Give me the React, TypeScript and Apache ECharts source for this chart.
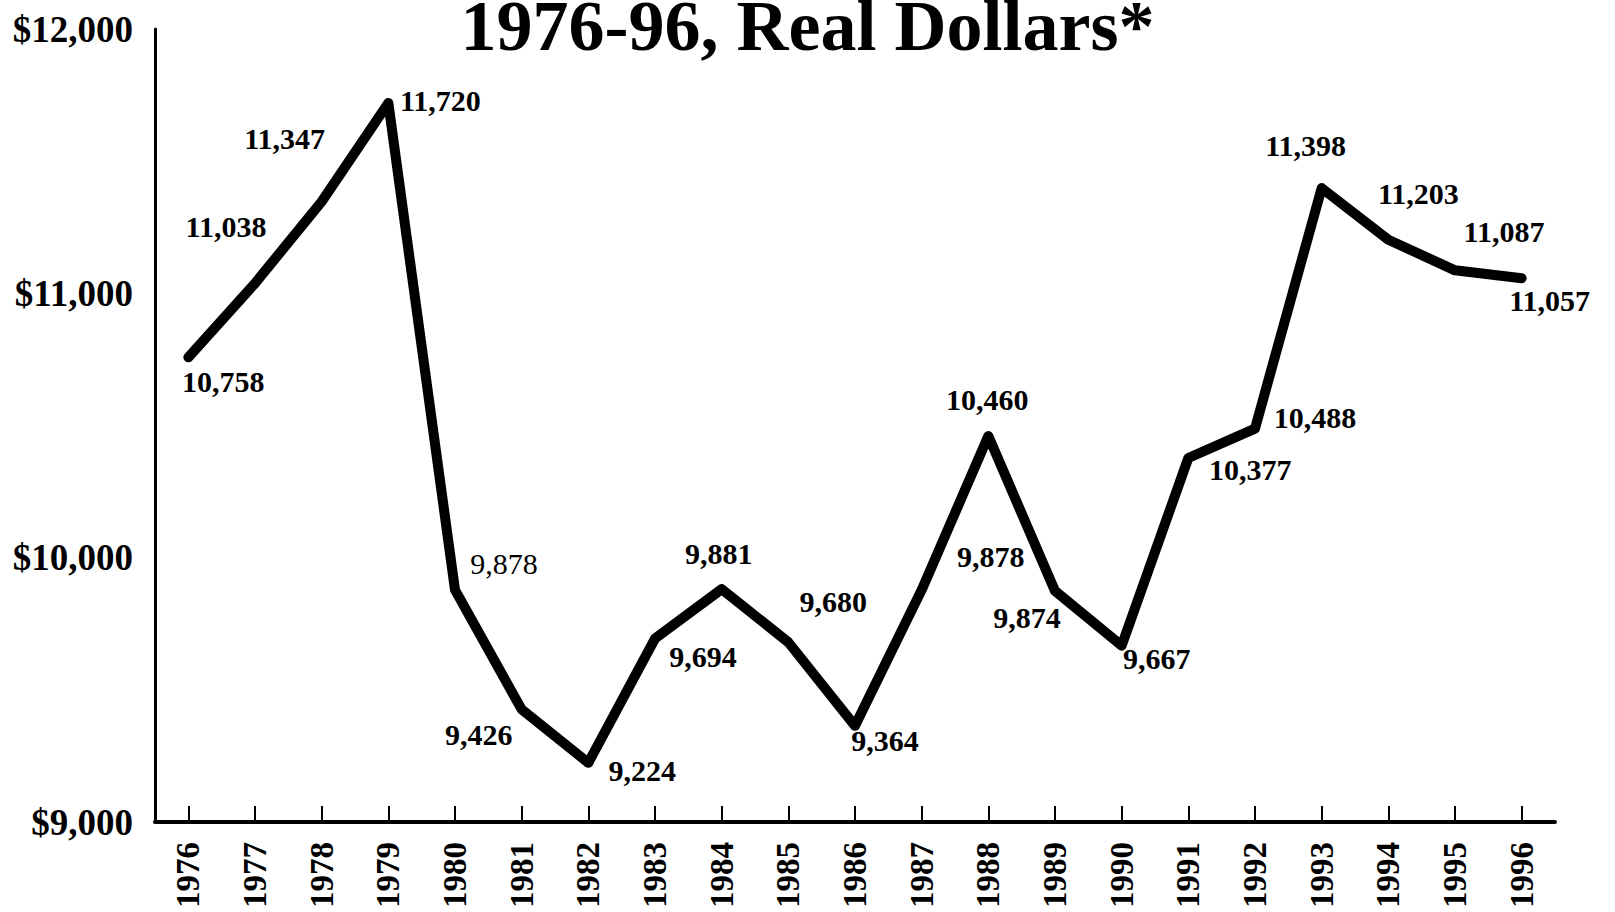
import React, { useEffect, useRef } from "react";
import * as echarts from "echarts";

const years = ["1976","1977","1978","1979","1980","1981","1982","1983","1984","1985","1986","1987","1988","1989","1990","1991","1992","1993","1994","1995","1996"];
const values = [10758, 11038, 11347, 11720, 9878, 9426, 9224, 9694, 9881, 9680, 9364, 9878, 10460, 9874, 9667, 10377, 10488, 11398, 11203, 11087, 11057];
const yTicks = [9000, 10000, 11000, 12000];
const titleText = "1976-96, Real Dollars*";

// label placement (style only)
const labelOffsets: number[][] = [
  [35, 24], [-29, -57], [-37, -63], [52, -3], [49, -26], [-43, 25], [54, 8],
  [48, 18], [-3, -36], [45, -41], [30, 15], [69, -33], [-1, -37], [-28, 27],
  [35, 13], [62, 11], [60, -11], [-16, -43], [30, -46], [49, -39], [28, 22],
];
const regularLabels = [4];

const FONT = "'Liberation Serif', 'Times New Roman', serif";

export default function App() {
  const ref = useRef<HTMLDivElement>(null);
  useEffect(() => {
    if (!ref.current) return;
    const chart = echarts.init(ref.current, undefined, { renderer: "svg" });
    chart.setOption({
      animation: false,
      backgroundColor: "#ffffff",
      title: {
        text: titleText,
        left: "center",
        top: 0,
        padding: 0,
        textStyle: { fontFamily: FONT, fontWeight: "bold", fontSize: 72, lineHeight: 52, color: "#000" },
      },
      grid: { left: 155, width: 1400, top: 29, bottom: 90 },
      xAxis: {
        type: "category",
        data: years,
        boundaryGap: true,
        axisLine: { show: true, lineStyle: { color: "#000", width: 4 } },
        axisTick: { show: true, inside: true, alignWithLabel: true, length: 16, lineStyle: { color: "#000", width: 2 } },
        axisLabel: {
          rotate: 90,
          margin: 20,
          fontFamily: FONT,
          fontWeight: "bold",
          fontSize: 33,
          color: "#000",
        },
        splitLine: { show: false },
      },
      yAxis: {
        type: "value",
        min: yTicks[0],
        max: yTicks[yTicks.length - 1],
        interval: 1000,
        axisLine: { show: true, lineStyle: { color: "#000", width: 3 } },
        axisTick: { show: false },
        splitLine: { show: false },
        axisLabel: {
          margin: 22,
          fontFamily: FONT,
          fontWeight: "bold",
          fontSize: 37,
          color: "#000",
          formatter: (v: number) => "$" + v.toLocaleString("en-US"),
        },
      },
      series: [
        {
          type: "line",
          data: values.map((v, i) => ({
            value: v,
            label: {
              offset: labelOffsets[i],
              fontWeight: regularLabels.includes(i) ? "normal" : "bold",
            },
          })),
          symbol: "circle",
          symbolSize: 2,
          itemStyle: { color: "#000" },
          lineStyle: { color: "#000", width: 10, cap: "round", join: "round" },
          label: {
            show: true,
            position: "inside",
            fontFamily: FONT,
            fontSize: 30,
            color: "#000",
            formatter: (p: any) => Number(p.value).toLocaleString("en-US"),
          },
        },
      ],
    });
    return () => chart.dispose();
  }, []);
  return (
    <div
      ref={ref}
      style={{ position: "fixed", left: 0, top: 0, width: 1615, height: 912, background: "#fff" }}
    />
  );
}
